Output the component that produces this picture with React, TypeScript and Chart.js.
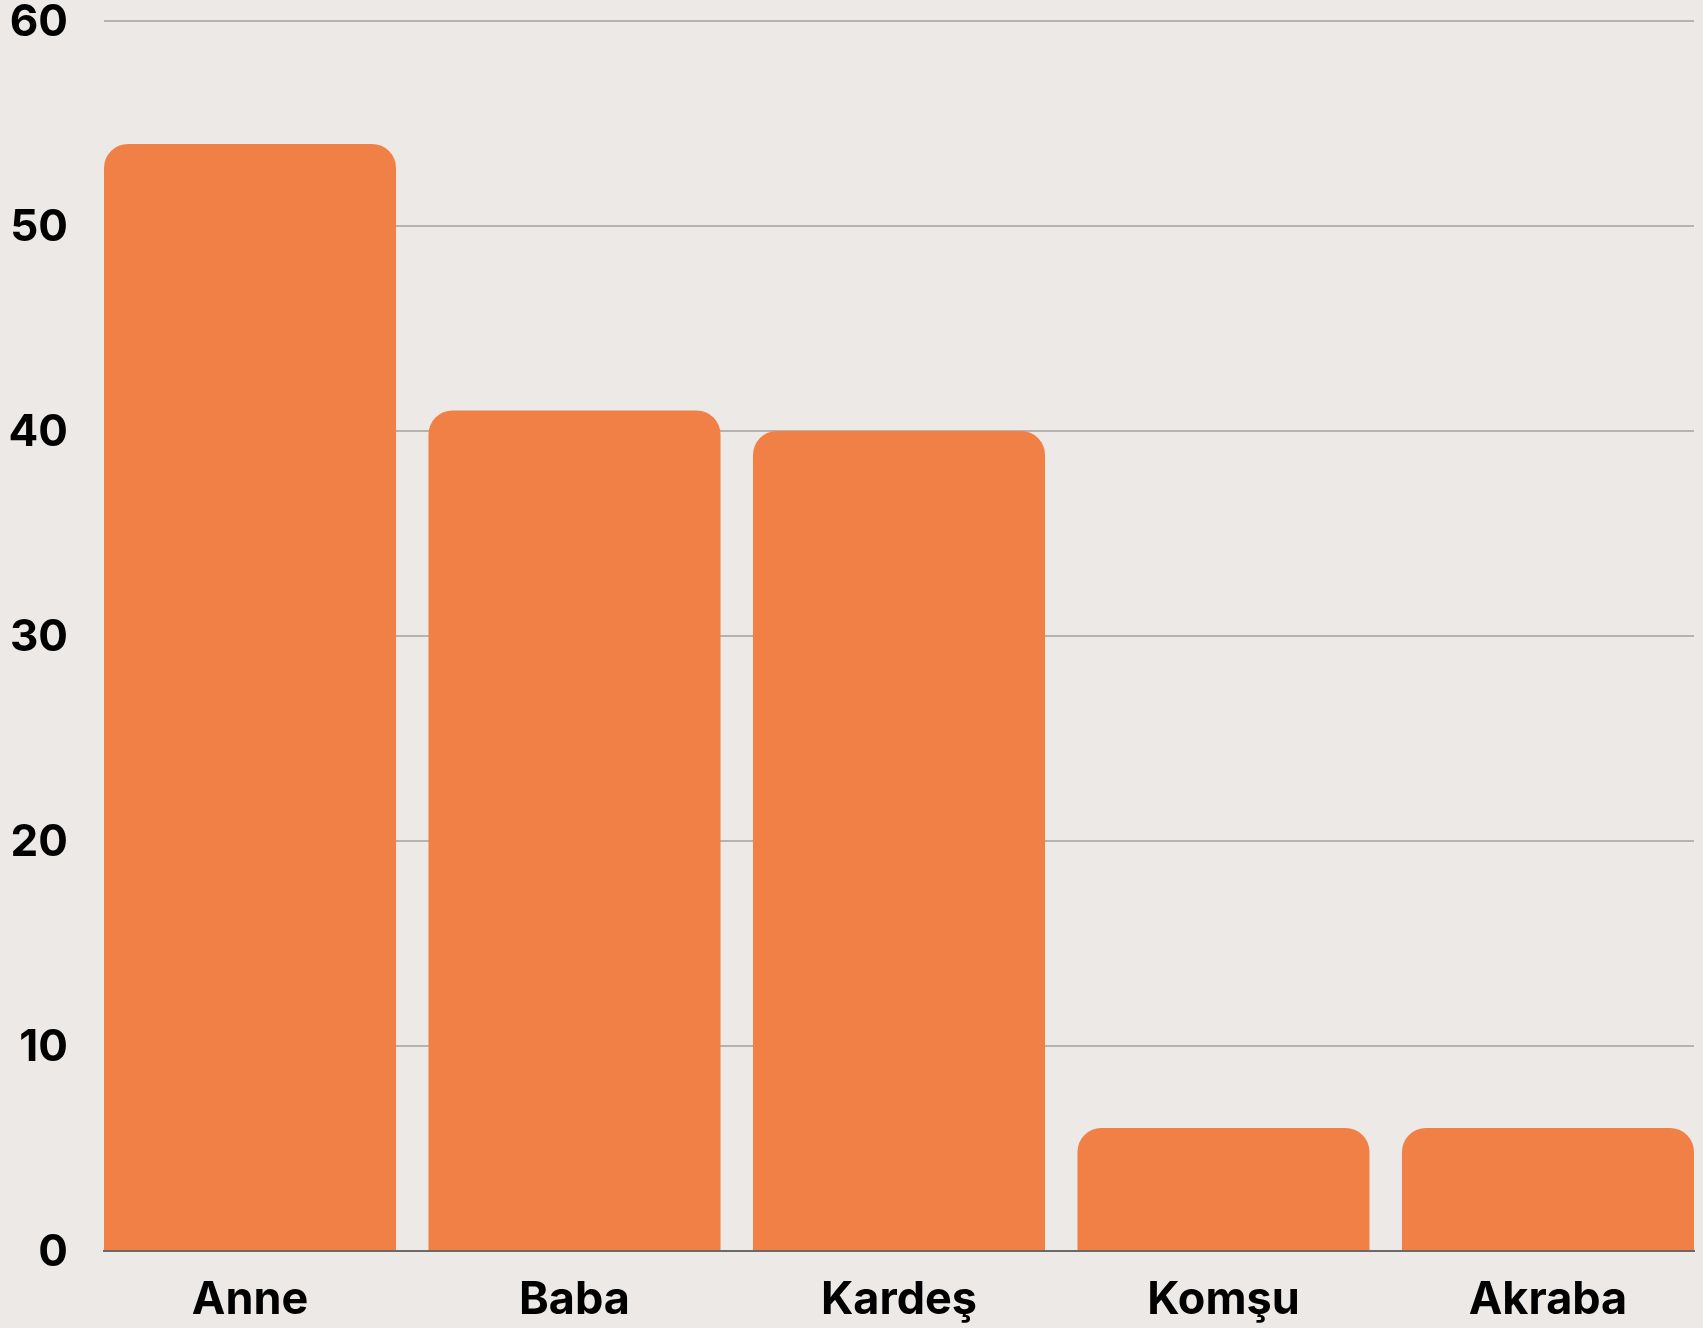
import React, { useEffect, useRef } from "react";
import { Chart, registerables } from "chart.js";

Chart.register(...registerables);

const categories = ["Anne", "Baba", "Kardeş", "Komşu", "Akraba"];
const values = [54, 41, 40, 6, 6];
const yTicks = [0, 10, 20, 30, 40, 50, 60];

const BG = "#ECE9E7";
const BAR = "#F08046";
const FONT = "Inter, 'DejaVu Sans', sans-serif";

export default function App() {
  const ref = useRef<HTMLCanvasElement | null>(null);

  useEffect(() => {
    if (!ref.current) return;
    const chart = new Chart(ref.current, {
      type: "bar",
      data: {
        labels: categories,
        datasets: [
          {
            data: values,
            backgroundColor: BAR,
            borderRadius: 24,
            borderSkipped: "start",
            categoryPercentage: 1,
            barPercentage: 0.9,
          },
        ],
      },
      options: {
        animation: false,
        responsive: false,
        maintainAspectRatio: false,
        layout: { padding: { top: 21, right: 9, left: 0, bottom: 0 } },
        plugins: { legend: { display: false }, tooltip: { enabled: false } },
        scales: {
          x: {
            grid: { display: false, drawTicks: false },
            border: { display: true, color: "#6a6a6a", width: 2 },
            ticks: {
              color: "#000",
              font: { family: FONT, size: 45, weight: "bold" },
              padding: 22,
              maxRotation: 0,
            },
            afterBuildTicks: (scale: any) => {
              scale._startValue = -0.45;
              scale._valueRange = 4.9;
            },
            afterFit: (scale: any) => {
              scale.height = 77;
              scale.paddingLeft = 0;
              scale.paddingRight = 0;
            },
          },
          y: {
            min: 0,
            max: 60,
            afterBuildTicks: (scale: any) => {
              scale.ticks = yTicks.map((v) => ({ value: v }));
            },
            grid: { color: "#b5b2b0", lineWidth: 2, drawTicks: false },
            border: { display: false },
            ticks: {
              color: "#000",
              font: { family: FONT, size: 44, weight: "bold" },
              padding: 36,
              labelOffset: 2,
            },
            afterFit: (scale: any) => {
              scale.width = 104;
              scale.paddingTop = 0;
              scale.paddingBottom = 0;
            },
          },
        },
      },
    });
    return () => chart.destroy();
  }, []);

  return (
    <div
      style={{
        position: "absolute",
        left: 0,
        top: 0,
        width: 1703,
        height: 1328,
        background: BG,
        overflow: "hidden",
      }}
    >
      <canvas ref={ref} width={1703} height={1328} style={{ display: "block" }} />
    </div>
  );
}
